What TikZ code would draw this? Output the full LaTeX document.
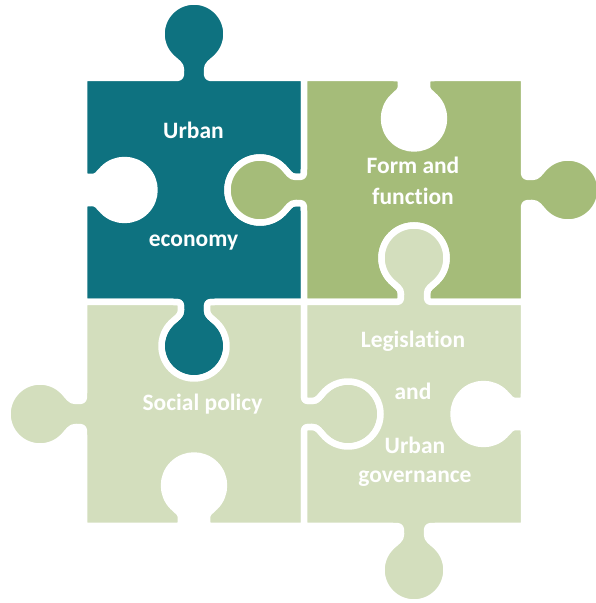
\documentclass[tikz,border=0pt]{standalone}
\usepackage{fontspec}
\setmainfont{Carlito}[Ligatures={NoCommon}]
\definecolor{pzteal}{HTML}{0E7280}
\definecolor{pzgreen}{HTML}{A5BC79}
\definecolor{pzlight}{HTML}{D3DEBD}
% knob pointing outward (local +y), edge from (0,0) to (#4,0)
\newcommand{\kn}[4]{{[shift={(#1,#2)},rotate=#3] -- (0,0) -- ({#4/2-21},0) .. controls ({#4/2-13},0) .. ({#4/2-13},8) .. controls ({#4/2-13},14) and ({#4/2-17.32},15.36) .. ({#4/2-22.98},21.02) arc[start angle=225,end angle=-45,radius=32.5] .. controls ({#4/2+17.32},15.36) and ({#4/2+13},14) .. ({#4/2+13},8) .. controls ({#4/2+13},0) .. ({#4/2+21},0) -- (#4,0)}}
% hole matching a neighbour's knob
\newcommand{\hl}[4]{{[shift={(#1,#2)},rotate=#3] -- (0,0) -- ({#4/2-21},0) .. controls ({#4/2-13},0) .. ({#4/2-13},-8) .. controls ({#4/2-13},-14) and ({#4/2-17.32},-15.36) .. ({#4/2-22.98},-21.02) arc[start angle=135,end angle=405,radius=32.5] .. controls ({#4/2+17.32},-15.36) and ({#4/2+13},-14) .. ({#4/2+13},-8) .. controls ({#4/2+13},0) .. ({#4/2+21},0) -- (#4,0)}}
% empty hole
\newcommand{\eh}[4]{{[shift={(#1,#2)},rotate=#3] -- (0,0) -- ({#4/2-21},0) .. controls ({#4/2-13},0) .. ({#4/2-13},-8) .. controls ({#4/2-13},-13) and ({#4/2-15.55},-13.63) .. ({#4/2-21.21},-19.29) arc[start angle=135,end angle=405,radius=30] .. controls ({#4/2+15.55},-13.63) and ({#4/2+13},-13) .. ({#4/2+13},-8) .. controls ({#4/2+13},0) .. ({#4/2+21},0) -- (#4,0)}}
\begin{document}
\begin{tikzpicture}[x=1pt,y=1pt,
  piece/.style={draw=white,line width=6.5pt,line join=round},
  lbl/.style={text=white,font=\fontsize{23.5}{28}\selectfont\bfseries,inner sep=0pt,anchor=base}]
\fill[white] (0,0) rectangle (595,603);
\useasboundingbox (0,0) rectangle (595,603);
% A: Urban economy
\path[piece,fill=pzteal] (84,525) \kn{84}{525}{0}{220} \hl{304}{525}{-90}{224} \kn{304}{301}{180}{220} \eh{84}{301}{90}{224} -- cycle;
% B: Form and function
\path[piece,fill=pzgreen] (304,525) \eh{304}{525}{0}{220} \kn{524}{525}{-90}{224} \hl{524}{301}{180}{220} \kn{304}{301}{90}{224} -- cycle;
% C: Social policy
\path[piece,fill=pzlight] (84,301) \hl{84}{301}{0}{220} \kn{304}{301}{-90}{224} \eh{304}{77}{180}{220} \kn{84}{77}{90}{224} -- cycle;
% D: Legislation and Urban governance
\path[piece,fill=pzlight] (304,301) \kn{304}{301}{0}{220} \eh{524}{301}{-90}{224} \kn{524}{77}{180}{220} \hl{304}{77}{90}{224} -- cycle;
% labels
\node[lbl] (a1) at (193.5,464) {Urban};
\node[lbl] (a2) at (193.5,356) {economy};
\node[lbl] (b1) at (413,429) {Form and};
\node[lbl] (b2) at (413,398) {function};
\node[lbl] (c1) at (202.5,192) {Social policy};
\node[lbl] (d1) at (413,255) {Legislation};
\node[lbl] (d2) at (413,203) {and};
\node[lbl] (d3) at (415,149) {Urban};
\node[lbl] (d4) at (415,120) {governance};
\end{tikzpicture}
\end{document}
